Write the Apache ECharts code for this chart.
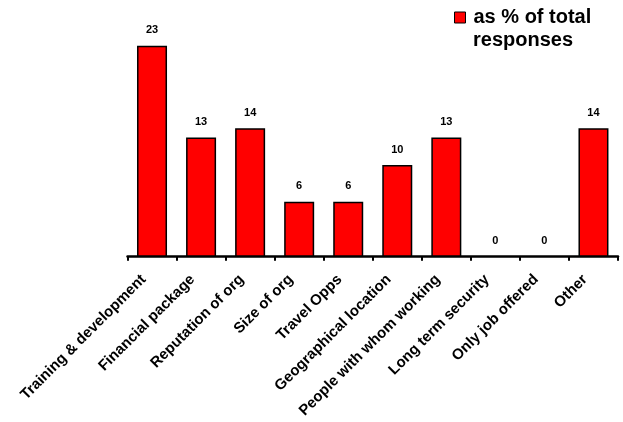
<!DOCTYPE html>
<html>
<head>
<meta charset="utf-8">
<script src="https://cdn.jsdelivr.net/npm/echarts@6/dist/echarts.min.js"></script>
<style>
html,body{margin:0;padding:0;background:#fff;}
#chart{width:623px;height:422px;}
</style>
</head>
<body>
<div id="chart"></div>
<script>
var categories = ['Training & development','Financial package','Reputation of org','Size of org','Travel Opps','Geographical location','People with whom working','Long term security','Only job offered','Other'];
var values = [23, 13, 14, 6, 6, 10, 13, 0, 0, 14];
var seriesName = 'as % of total';
var legendSecondLine = 'responses';

var FONT = "'Liberation Sans', Arial, sans-serif";
var barData = values.map(function (v) {
  return v === 0 ? {value: v, itemStyle: {borderWidth: 0}} : {value: v};
});
var chart = echarts.init(document.getElementById('chart'), null, {renderer:'canvas'});
chart.setOption({
  animation: false,
  backgroundColor: '#ffffff',
  title: {
    text: legendSecondLine,
    left: 473, top: 29, padding: 0,
    textStyle: {fontFamily: FONT, fontWeight: 'bold', fontSize: 20, lineHeight: 23, color: '#000'}
  },
  legend: {
    data: [seriesName],
    left: 454, top: 6, padding: 0,
    itemWidth: 11, itemHeight: 11,
    icon: 'rect',
    itemStyle: {color: '#ff0000', borderColor: '#000', borderWidth: 1},
    textStyle: {fontFamily: FONT, fontWeight: 'bold', fontSize: 20, lineHeight: 23, color: '#000', padding: [0,0,0,3]}
  },
  grid: {left: 127.5, right: 5, top: 27.5, bottom: 165.3, containLabel: false},
  xAxis: {
    type: 'category',
    data: categories,
    axisLine: {show: true, lineStyle: {color: '#000', width: 2.5}},
    axisTick: {show: true, alignWithLabel: false, length: 4, lineStyle: {color: '#000', width: 2}},
    axisLabel: {
      interval: 0, rotate: 45, margin: 12,
      padding: [0, 12, 0, 0],
      fontFamily: FONT, fontWeight: 'bold', fontSize: 15, color: '#000'
    },
    splitLine: {show: false}
  },
  yAxis: {
    type: 'value', min: 0, max: 25,
    show: false,
    splitLine: {show: false}
  },
  series: [{
    name: seriesName,
    type: 'bar',
    data: barData,
    barWidth: 30,
    itemStyle: {color: '#ff0000', borderColor: '#000', borderWidth: 1.5},
    label: {
      show: true, position: 'top', distance: 10,
      fontFamily: FONT, fontWeight: 'bold', fontSize: 11, color: '#000'
    }
  }]
});
</script>
</body>
</html>
